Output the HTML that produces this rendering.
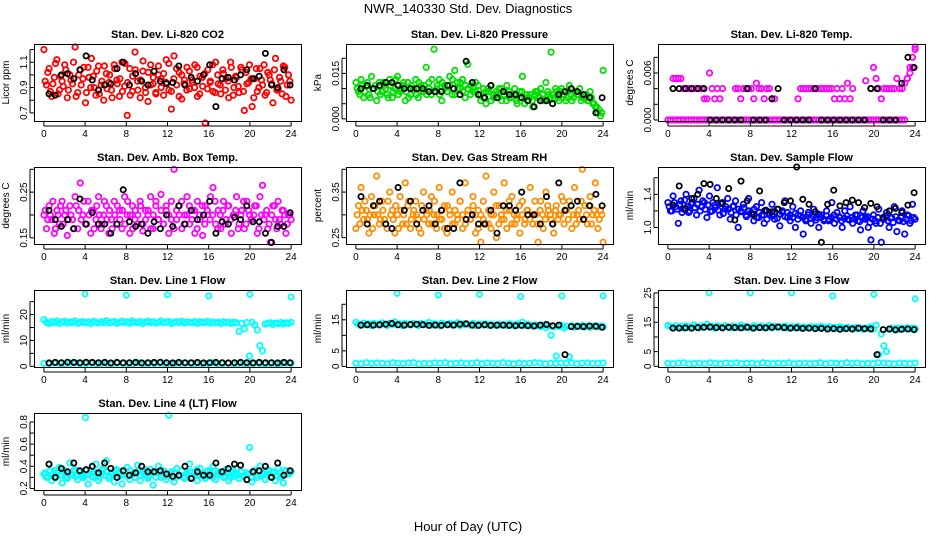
<!DOCTYPE html>
<html><head><meta charset="utf-8"><style>
body{margin:0;background:#fff;}
svg{display:block;font-family:"Liberation Sans",sans-serif;}
</style></head><body>
<svg id="chart" width="936" height="540" viewBox="0 0 936 540" xmlns="http://www.w3.org/2000/svg">
<rect width="936" height="540" fill="#fff"/>
<text x="468" y="13" text-anchor="middle" font-size="13">NWR_140330  Std. Dev. Diagnostics</text>
<text x="468" y="531" text-anchor="middle" font-size="13">Hour of Day (UTC)</text>
</svg>
<script>
const xTicks=[0,4,8,12,16,20,24];
const co2Color=[1.2,0.92,1.05,0.83,0.98,1.12,0.88,0.95,1.08,0.82,1.0,0.93,1.22,0.86,1.04,0.97,0.78,1.06,0.9,0.99,0.84,1.07,0.92,0.8,1.01,0.94,0.88,1.08,0.96,0.83,1.1,0.91,0.68,1.05,0.87,1.18,0.95,0.82,1.03,0.9,0.79,1.08,0.93,0.86,1.0,0.97,0.84,1.12,0.88,0.73,1.15,0.92,1.02,0.81,0.96,1.06,0.89,0.94,1.08,0.83,0.99,0.91,0.62,1.04,0.95,0.87,1.1,0.93,0.85,1.01,0.97,0.82,1.06,0.9,0.98,0.86,1.04,0.72,0.93,1.08,0.75,0.97,0.87,1.05,0.92,0.84,1.02,0.96,0.78,1.13,0.89,0.95,1.07,0.83,1.0,0.8];
const co2ColorB=[0.95,1.02,0.87,0.93,1.09,0.85,0.99,0.91,1.04,0.88,0.96,1.1,0.83,1.0,0.92,1.06,0.86,0.98,1.13,0.9,1.03,0.85,0.95,1.07,0.89,1.0,0.82,1.05,0.93,0.97,0.87,1.09,0.94,0.84,0.99,1.04,0.88,0.96,1.11,0.86,1.02,0.92,0.98,0.85,1.07,0.9,1.01,0.94,1.09,0.87,0.97,1.05,0.83,1.0,0.93,0.88,1.03,0.96,0.9,1.06,0.85,0.98,1.01,0.89,0.94,1.08,0.86,1.0,0.92,1.04,0.88,0.95,1.1,0.84,0.99,0.91,1.06,0.87,1.02,0.94,0.97,0.82,1.05,0.9,0.96,1.08,0.86,1.0,0.93,1.04,0.88,0.98,0.85,1.06,0.92,0.95];
const co2Black=[0.85,0.84,1.0,1.01,0.97,1.04,1.15,0.96,0.88,0.92,0.93,1.05,1.1,0.92,1.01,0.95,0.92,1.03,0.95,0.93,0.94,1.07,0.92,0.98,0.95,1.0,1.08,0.75,0.97,0.98,0.96,1.0,1.04,0.97,0.99,1.17,0.92,0.9,1.04,0.92];
const presColor=[0.012,0.009,0.013,0.007,0.011,0.008,0.014,0.01,0.006,0.012,0.009,0.011,0.008,0.013,0.007,0.01,0.014,0.009,0.011,0.006,0.012,0.008,0.01,0.013,0.007,0.011,0.009,0.017,0.012,0.008,0.023,0.01,0.013,0.006,0.011,0.009,0.014,0.008,0.016,0.012,0.01,0.013,0.007,0.018,0.011,0.009,0.012,0.008,0.006,0.01,0.005,0.009,0.011,0.007,0.008,0.01,0.006,0.009,0.011,0.007,0.008,0.01,0.005,0.009,0.014,0.007,0.006,0.008,0.004,0.009,0.007,0.01,0.006,0.012,0.008,0.022,0.007,0.009,0.006,0.01,0.008,0.007,0.011,0.006,0.009,0.008,0.01,0.007,0.008,0.006,0.009,0.005,0.004,0.002,0.001,0.016];
const presColorB=[0.01,0.008,0.011,0.009,0.012,0.007,0.01,0.011,0.009,0.008,0.012,0.01,0.007,0.011,0.009,0.013,0.008,0.01,0.012,0.009,0.007,0.011,0.01,0.008,0.012,0.009,0.011,0.008,0.01,0.013,0.009,0.011,0.008,0.012,0.01,0.009,0.011,0.013,0.008,0.01,0.012,0.009,0.011,0.01,0.008,0.01,0.009,0.011,0.008,0.007,0.009,0.01,0.006,0.008,0.009,0.007,0.01,0.008,0.006,0.009,0.007,0.008,0.006,0.007,0.009,0.005,0.008,0.007,0.006,0.008,0.009,0.007,0.008,0.006,0.009,0.007,0.008,0.01,0.007,0.009,0.008,0.006,0.009,0.008,0.007,0.009,0.008,0.006,0.007,0.008,0.006,0.007,0.005,0.004,0.003,0.002];
const presBlack=[0.01,0.011,0.01,0.011,0.012,0.012,0.011,0.01,0.01,0.01,0.01,0.009,0.009,0.009,0.011,0.01,0.008,0.019,0.012,0.008,0.007,0.011,0.007,0.009,0.008,0.008,0.007,0.006,0.004,0.006,0.006,0.005,0.008,0.009,0.01,0.009,0.008,0.007,0.002,0.007];
const tempColorA=[0,0,0,0,0,0,0,0,0,0,0,0,0,0,0,0,0,0,0,0,0,0,0,0,0,0,0,0,0,0,0,0,0,0,0,0,0,0,0,0,0,0,0,0,0,0,0,0,0,0,0,0,0,0,0,0,0,0,0,0,0,0,0,0,0,0,0,0,0,0,0,0,0,0,0,0,0,0,0,0,0,0,0,0,0,0,0,0,0,0,0,0,0.0053,0.0067,0.008,0.0093];
const tempColorB=[null,null,0.0053,0.0053,0.0053,0.0053,0.004,0.004,0.004,0.004,0.004,0.004,0.004,0.004,0.0027,0.0027,0.006,0.004,0.0027,0.004,0.0027,0.004,null,null,null,null,0.004,0.004,0.0027,0.004,0.004,0.004,0.004,0.0027,0.0047,0.004,0.004,0.0027,0.004,0.004,0.0027,0.0027,null,null,null,null,null,null,null,null,0.0027,0.004,0.004,0.004,0.004,0.004,0.004,0.004,0.004,0.004,0.004,0.004,0.004,0.004,0.0027,0.004,0.0027,0.004,0.0027,0.0047,0.0027,0.004,null,null,null,null,0.005,null,0.004,0.0067,0.0053,0.004,0.0027,0.004,0.004,0.004,0.004,0.004,0.0053,0.004,0.004,0.0047,0.0053,0.006,0.0067,0.009];
const tempBlack=[0.004,0.004,0.004,0.004,0.004,0.004,0,0,0,0,0,0,0.004,0,0,0,0.0027,0.004,0,0,0,0,0,0.004,0,0,0,0,0,0,0,0,0.004,0.004,0,0,0,0.0047,0.008,0.0067];
const ambColor=[0.2,0.17,0.22,0.19,0.16,0.21,0.18,0.23,0.2,0.155,0.22,0.19,0.24,0.17,0.27,0.2,0.18,0.23,0.16,0.21,0.19,0.24,0.17,0.2,0.22,0.16,0.19,0.23,0.18,0.21,0.17,0.24,0.2,0.16,0.22,0.19,0.18,0.23,0.165,0.21,0.2,0.24,0.17,0.22,0.19,0.245,0.18,0.21,0.16,0.23,0.3,0.19,0.22,0.17,0.2,0.24,0.18,0.21,0.16,0.23,0.19,0.155,0.22,0.2,0.24,0.26,0.18,0.21,0.17,0.23,0.19,0.22,0.16,0.2,0.24,0.18,0.21,0.17,0.23,0.2,0.19,0.22,0.16,0.24,0.265,0.2,0.17,0.14,0.22,0.19,0.23,0.18,0.21,0.16,0.2,0.19];
const ambColorB=[0.21,0.19,0.2,0.23,0.17,0.2,0.22,0.18,0.21,0.19,0.2,0.17,0.22,0.21,0.19,0.23,0.18,0.2,0.21,0.17,0.22,0.2,0.18,0.23,0.19,0.21,0.17,0.2,0.22,0.19,0.21,0.18,0.23,0.2,0.17,0.21,0.2,0.22,0.18,0.19,0.21,0.17,0.2,0.23,0.19,0.21,0.18,0.22,0.2,0.19,0.17,0.21,0.2,0.23,0.18,0.2,0.22,0.19,0.21,0.17,0.2,0.22,0.18,0.21,0.19,0.2,0.23,0.17,0.2,0.21,0.18,0.22,0.19,0.2,0.21,0.17,0.2,0.23,0.18,0.21,0.19,0.2,0.22,0.17,0.2,0.19,0.21,0.18,0.2,0.22,0.17,0.19,0.21,0.2,0.18,0.2];
const ambBlack=[0.21,0.19,0.175,0.19,0.17,0.235,0.18,0.205,0.18,0.18,0.16,0.18,0.255,0.185,0.175,0.18,0.16,0.185,0.17,0.2,0.175,0.22,0.18,0.21,0.19,0.2,0.23,0.16,0.185,0.18,0.195,0.19,0.22,0.185,0.185,0.16,0.14,0.175,0.175,0.205];
const rhColor=[0.27,0.32,0.36,0.29,0.31,0.26,0.34,0.3,0.385,0.28,0.33,0.29,0.27,0.35,0.31,0.26,0.3,0.34,0.28,0.37,0.32,0.27,0.3,0.33,0.29,0.26,0.35,0.31,0.28,0.34,0.3,0.27,0.36,0.29,0.32,0.26,0.31,0.35,0.28,0.3,0.33,0.27,0.37,0.3,0.29,0.34,0.26,0.31,0.24,0.33,0.385,0.28,0.3,0.35,0.25,0.32,0.29,0.37,0.27,0.31,0.34,0.28,0.3,0.26,0.33,0.29,0.31,0.36,0.28,0.3,0.24,0.33,0.27,0.35,0.31,0.29,0.26,0.32,0.3,0.34,0.28,0.31,0.33,0.27,0.36,0.3,0.29,0.4,0.32,0.28,0.34,0.3,0.37,0.27,0.31,0.24];
const rhColorB=[0.3,0.28,0.31,0.33,0.29,0.3,0.27,0.32,0.3,0.29,0.31,0.28,0.33,0.3,0.29,0.32,0.27,0.31,0.3,0.28,0.33,0.29,0.31,0.3,0.27,0.32,0.29,0.3,0.31,0.28,0.33,0.3,0.29,0.31,0.27,0.32,0.3,0.28,0.31,0.29,0.33,0.3,0.28,0.31,0.29,0.32,0.3,0.27,0.3,0.29,0.28,0.31,0.27,0.3,0.32,0.28,0.3,0.29,0.31,0.33,0.28,0.3,0.29,0.32,0.3,0.28,0.31,0.29,0.3,0.33,0.28,0.31,0.3,0.29,0.32,0.3,0.28,0.31,0.29,0.3,0.33,0.31,0.29,0.32,0.3,0.28,0.31,0.33,0.29,0.3,0.32,0.28,0.31,0.3,0.29,0.3];
const rhBlack=[0.34,0.28,0.32,0.33,0.28,0.27,0.36,0.31,0.33,0.28,0.31,0.32,0.28,0.31,0.27,0.27,0.37,0.29,0.3,0.28,0.28,0.31,0.26,0.32,0.32,0.31,0.35,0.3,0.3,0.28,0.34,0.28,0.37,0.31,0.32,0.33,0.29,0.32,0.345,0.32];
const flowColor=[1.3,1.2,1.38,1.25,1.05,1.32,1.22,1.4,1.18,1.28,1.35,1.15,1.45,1.25,1.3,1.12,1.38,1.2,1.27,1.48,1.15,1.3,1.22,1.35,1.1,1.25,1.32,1.0,1.2,1.28,1.15,1.35,1.18,1.08,1.25,1.12,1.3,1.05,1.2,1.15,1.28,1.1,1.22,1.02,1.18,1.32,1.12,1.08,1.25,1.0,1.15,1.2,0.92,1.1,1.18,1.05,1.22,1.12,1.0,1.15,1.08,1.2,1.1,1.3,1.05,1.18,1.12,1.0,1.2,1.1,1.25,1.05,1.15,1.08,0.97,1.2,1.12,1.0,0.85,1.15,1.05,1.22,0.82,1.1,1.18,1.0,1.12,1.25,0.95,1.08,1.2,0.92,1.15,1.05,1.28,1.1];
const flowColorB=[1.25,1.2,1.3,1.22,1.28,1.18,1.33,1.25,1.2,1.3,1.24,1.28,1.2,1.32,1.22,1.27,1.19,1.3,1.24,1.21,1.29,1.17,1.25,1.22,1.18,1.26,1.15,1.22,1.19,1.24,1.13,1.2,1.16,1.22,1.12,1.18,1.15,1.2,1.1,1.17,1.14,1.19,1.11,1.16,1.2,1.13,1.18,1.15,1.12,1.17,1.1,1.14,1.12,1.08,1.15,1.11,1.13,1.09,1.16,1.12,1.1,1.14,1.08,1.12,1.15,1.1,1.13,1.08,1.11,1.14,1.09,1.12,1.1,1.15,1.07,1.12,1.1,1.13,1.06,1.1,1.08,1.12,1.05,1.1,1.14,1.08,1.11,1.06,1.13,1.09,1.12,1.07,1.1,1.14,1.08,1.12];
const flowBlack=[1.27,1.5,1.23,1.35,1.4,1.53,1.52,1.35,1.29,1.47,1.09,1.56,1.32,1.16,1.44,1.21,1.19,1.22,1.3,1.32,1.73,1.34,1.28,1.19,0.82,1.28,1.45,1.26,1.3,1.33,1.3,1.24,1.29,1.25,1.12,1.2,1.23,1.18,1.27,1.42];
const line1High=[18,17,16.5,17.3,16.8,17.5,16.6,17.1,17.4,16.7,17.2,16.9,17.5,16.6,17,17.3,16.8,17.1,16.5,17.4,17,16.7,17.2,16.9,17.6,16.8,17.1,17.3,16.6,17,17.4,16.9,17.2,16.7,17.5,17,16.8,17.3,16.6,17.1,17.4,16.9,17.2,16.7,17,17.5,16.8,17.1,17.3,16.6,17,17.2,16.9,17.4,16.7,17.1,17,16.8,17.3,16.6,17.2,16.9,17,17.4,16.7,17.1,16.8,17,16.5,17.2,16.9,17,16.6,17.1,16.8,13.5,16.5,14.5,16.9,4,17,16,14,8,6,16.3,16.6,16.8,16.2,16.7,16.5,16.9,16.4,16.8,16.6,17];
const line1Low=[1.1,0.9,1.2,1.0,0.8,1.1,1.3,0.9,1.0,1.2,0.8,1.1,1.0,0.9,1.2,1.1,0.8,1.0,1.3,0.9,1.1,1.0,1.2,0.8,0.9,1.1,1.0,1.2,0.9,0.8,1.1,1.0,1.3,0.9,1.0,1.2,0.8,1.1,1.0,0.9,1.2,1.0,0.8,1.1,0.9,1.0,1.2,1.1];
const line1OutHours=[4,8,12,16,20,24];
const line1OutValues=[28,27.5,27.7,27.2,27.8,26.8];
const line1Black=[1.3,1.5,1.4,1.6,1.5,1.4,1.6,1.5,1.4,1.5,1.3,1.5,1.4,1.4,1.5,1.3,1.4,1.5,1.6,1.4,1.3,1.5,1.4,1.4,1.5,1.3,1.4,1.5,1.4,1.3,1.4,1.5,1.4,1.3,1.5,1.4,1.4,1.3,1.5,1.4];
const line2High=[14.2,13.6,13.2,13.9,13.4,13.7,13.1,13.8,13.5,13.3,14,13.6,13.2,13.9,13.5,14.3,13.4,13.7,13.1,13.8,13.6,13.3,13.9,13.5,13.2,13.8,13.6,13.4,14.1,13.3,13.7,13.5,13.2,13.9,13.6,13.4,13.8,13.3,13.5,14,13.2,13.7,13.4,13.6,13.3,13.8,13.1,13.5,13.6,13.3,13.7,13.2,13.5,13.4,13.1,13.6,13.3,13.5,13.2,13.7,13.4,13.1,13.6,13.3,14.2,13.2,13.5,13.3,13.0,13.4,13.1,12.8,13.3,12.5,13.0,10,12.7,3.3,12.9,13.2,12.4,12.9,3.1,13.1,12.6,13.0,12.8,13.2,12.7,13.0,12.6,12.9,13.1,12.7,13.0,12.8];
const line2Low=[1.0,0.8,1.2,0.9,1.1,1.0,0.8,1.2,1.0,0.9,1.1,1.2,0.8,1.0,0.9,1.1,1.0,1.2,0.8,1.0,1.1,0.9,1.0,1.2,0.8,1.1,1.0,0.9,1.2,1.0,0.8,1.1,0.9,1.0,1.2,1.1,0.8,1.0,0.9,1.1,1.0,1.2,0.8,1.0,1.1,0.9,1.0,1.1];
const line2OutHours=[4,8,12,16,20,24];
const line2OutValues=[23.5,23,23.2,22.5,22.7,22.7];
const line2Black=[13.3,13.4,13.3,13.4,13.6,13.8,13.4,13.3,13.5,13.6,13.4,13.2,13.3,13.2,13.4,13.3,13.6,13.7,13.3,13.2,13.4,13.2,13.3,13.3,13.2,13.1,13.2,13.1,13.0,13.3,13.5,13.1,13.3,3.8,12.8,12.9,12.8,13.0,12.9,12.6];
const line3High=[13.9,13.5,13.1,13.8,13.3,13.6,13.0,13.7,13.4,13.2,14.1,13.5,13.1,13.8,13.4,14.3,13.3,13.6,13.0,13.7,13.5,13.2,13.8,13.4,13.1,13.7,13.5,13.3,14.0,13.2,13.6,13.4,13.1,13.8,13.5,13.3,13.7,13.2,13.4,13.9,13.1,13.6,13.3,13.5,13.2,13.7,13.0,13.4,13.5,13.2,13.6,13.1,13.4,13.3,13.0,13.5,13.2,13.4,13.1,13.6,13.3,13.0,13.5,13.2,13.3,13.1,13.4,13.2,12.9,13.3,13.0,12.8,13.2,12.7,13.0,12.6,12.9,13.1,13.4,12.7,14,4,11,7,5,12.6,12.9,12.7,13.0,12.6,12.9,12.8,13.1,12.7,13.0,12.8];
const line3Low=[1.0,0.9,1.1,1.2,0.8,1.0,1.1,0.9,1.2,1.0,0.8,1.1,1.0,1.2,0.9,1.0,1.1,0.8,1.2,1.0,0.9,1.1,1.0,1.2,0.8,1.0,1.1,0.9,1.0,1.2,0.8,1.1,1.0,0.9,1.2,1.0,1.1,0.8,1.0,0.9,1.2,1.1,1.0,0.8,1.1,1.0,0.9,1.1];
const line3OutHours=[4,8,12,16,20,24];
const line3OutValues=[25,25,25,24,24.5,23];
const line3Black=[13.0,13.0,13.1,13.0,13.2,13.3,13.4,13.2,13.1,13.3,13.2,13.1,13.3,13.0,13.2,13.1,13.3,13.4,13.2,13.0,13.1,12.9,13.0,12.8,12.9,12.7,12.8,12.6,12.8,12.7,13.0,12.8,12.7,4.0,12.5,12.7,12.4,12.6,12.7,12.5];
const line4Color=[0.33,0.3,0.42,0.27,0.36,0.31,0.39,0.25,0.34,0.29,0.43,0.32,0.37,0.28,0.35,0.31,0.84,0.24,0.36,0.3,0.42,0.27,0.33,0.38,0.45,0.29,0.34,0.26,0.37,0.31,0.24,0.35,0.39,0.28,0.33,0.3,0.41,0.27,0.36,0.32,0.29,0.37,0.23,0.34,0.4,0.3,0.35,0.28,0.86,0.33,0.26,0.38,0.31,0.36,0.29,0.34,0.42,0.3,0.35,0.27,0.38,0.32,0.29,0.36,0.31,0.4,0.28,0.35,0.33,0.3,0.37,0.27,0.34,0.31,0.38,0.29,0.35,0.32,0.28,0.57,0.26,0.36,0.3,0.4,0.33,0.28,0.37,0.31,0.34,0.27,0.38,0.3,0.25,0.36,0.33,0.35];
const line4ColorB=[0.34,0.31,0.36,0.33,0.3,0.35,0.32,0.37,0.3,0.34,0.33,0.36,0.31,0.35,0.32,0.3,0.36,0.33,0.31,0.35,0.34,0.3,0.37,0.32,0.35,0.31,0.33,0.36,0.3,0.34,0.32,0.35,0.31,0.36,0.33,0.3,0.35,0.32,0.34,0.37,0.31,0.33,0.35,0.3,0.34,0.32,0.36,0.31,0.33,0.35,0.3,0.34,0.32,0.36,0.31,0.33,0.35,0.3,0.34,0.37,0.32,0.33,0.31,0.35,0.34,0.3,0.36,0.32,0.33,0.35,0.31,0.34,0.3,0.36,0.33,0.32,0.35,0.31,0.34,0.33,0.3,0.36,0.32,0.35,0.31,0.34,0.33,0.36,0.3,0.35,0.32,0.34,0.31,0.36,0.33,0.35];
const line4Black=[0.42,0.3,0.38,0.35,0.43,0.36,0.37,0.4,0.34,0.43,0.38,0.3,0.36,0.32,0.34,0.4,0.35,0.35,0.36,0.33,0.31,0.32,0.4,0.29,0.35,0.32,0.32,0.43,0.35,0.38,0.42,0.41,0.28,0.35,0.36,0.4,0.3,0.43,0.32,0.36];
const blackHours=[0.5,1.1,1.7,2.3,2.9,3.5,4.1,4.7,5.3,5.9,6.5,7.1,7.7,8.3,8.9,9.5,10.1,10.7,11.3,11.9,12.5,13.1,13.7,14.3,14.9,15.5,16.1,16.7,17.3,17.9,18.5,19.1,19.7,20.3,20.9,21.5,22.1,22.7,23.3,23.9];

const NS='http://www.w3.org/2000/svg';
const svg=document.getElementById('chart');
function mk(tag,attrs,parent){const e=document.createElementNS(NS,tag);for(const k in attrs)e.setAttribute(k,attrs[k]);(parent||svg).appendChild(e);return e;}

const panels=[
 {key:'co2',title:'Stan. Dev. Li-820 CO2',ylab:'Licor ppm',col:0,row:0,ymin:0.636,ymax:1.244,ticks:[0.7,0.8,0.9,1.0,1.1,1.2],labels:{0.7:'0.7',0.9:'0.9',1.1:'1.1'},color:'#ff0000',series:[co2Color],series2:[co2ColorB],black:co2Black},
 {key:'pressure',title:'Stan. Dev. Li-820 Pressure',ylab:'kPa',col:1,row:0,ymin:-0.0007,ymax:0.0247,ticks:[0,0.005,0.01,0.015,0.02],labels:{0:'0.000',0.015:'0.015'},color:'#00e000',series:[presColor],series2:[presColorB],black:presBlack},
 {key:'temp',title:'Stan. Dev. Li-820 Temp.',ylab:'degrees C',col:2,row:0,ymin:-0.00013,ymax:0.0097,ticks:[0,0.002,0.004,0.006,0.008],labels:{0:'0.000',0.006:'0.006'},color:'#ff00ff',series:[tempColorA,tempColorB],series2:[],black:tempBlack},
 {key:'ambtemp',title:'Stan. Dev. Amb. Box Temp.',ylab:'degrees C',col:0,row:1,ymin:0.1365,ymax:0.305,ticks:[0.15,0.2,0.25,0.3],labels:{0.15:'0.15',0.25:'0.25'},color:'#ff00ff',series:[ambColor],series2:[ambColorB],black:ambBlack},
 {key:'rh',title:'Stan. Dev. Gas Stream RH',ylab:'percent',col:1,row:1,ymin:0.236,ymax:0.405,ticks:[0.25,0.3,0.35,0.4],labels:{0.25:'0.25',0.35:'0.35'},color:'#ff8c00',series:[rhColor],series2:[rhColorB],black:rhBlack},
 {key:'sampleflow',title:'Stan. Dev. Sample Flow',ylab:'ml/min',col:2,row:1,ymin:0.8,ymax:1.73,ticks:[1.0,1.2,1.4,1.6],labels:{1:'1.0',1.4:'1.4'},color:'#0000ff',series:[flowColor],series2:[flowColorB],black:flowBlack},
 {key:'line1',title:'Stan. Dev. Line 1 Flow',ylab:'ml/min',col:0,row:2,ymin:-0.27,ymax:29.5,ticks:[0,5,10,15,20,25],labels:{0:'0',10:'10',20:'20'},color:'#00ffff',series:[line1High,line1Low],series2:[],out:[line1OutHours,line1OutValues],black:line1Black},
 {key:'line2',title:'Stan. Dev. Line 2 Flow',ylab:'ml/min',col:1,row:2,ymin:-0.2,ymax:24.6,ticks:[0,5,10,15,20],labels:{0:'0',5:'5',15:'15'},color:'#00ffff',series:[line2High,line2Low],series2:[],out:[line2OutHours,line2OutValues],black:line2Black},
 {key:'line3',title:'Stan. Dev. Line 3 Flow',ylab:'ml/min',col:2,row:2,ymin:-0.24,ymax:26.0,ticks:[0,5,10,15,20,25],labels:{0:'0',5:'5',15:'15',25:'25'},color:'#00ffff',series:[line3High,line3Low],series2:[],out:[line3OutHours,line3OutValues],black:line3Black},
 {key:'line4',title:'Stan. Dev. Line 4 (LT) Flow',ylab:'ml/min',col:0,row:3,ymin:0.186,ymax:0.881,ticks:[0.2,0.3,0.4,0.5,0.6,0.7,0.8],labels:{0.2:'0.2',0.4:'0.4',0.6:'0.6',0.8:'0.8'},color:'#00ffff',series:[line4Color],series2:[line4ColorB],black:line4Black}
];

panels.forEach(p=>{
  const L=34+312*p.col, R=L+267, T=44+123*p.row, B=T+77;
  const g=mk('g',{});
  
  
  const xs=h=>L+(h+0.96)/25.92*267;
  const ys=v=>B-(v-p.ymin)/(p.ymax-p.ymin)*(B-T);
  const t=mk('text',{x:(L+R)/2,y:T-6,'text-anchor':'middle','font-size':'11','font-weight':'bold'},g);
  t.textContent=p.title;
  
  
  const yl=mk('text',{x:0,y:0,transform:`translate(${L-25},${(T+B)/2}) rotate(-90)`,'text-anchor':'middle','font-size':'10'},g);
  yl.textContent=p.ylab;
  
  
  const pts=mk('g',{fill:'none','stroke-width':'1.8'},g);
  
  
  function drawSeries(arr,off){
    arr.forEach((v,i)=>{
      if(v===null)return;
      const h=off?(i+0.5)*24/arr.length:i*24/(arr.length-1);
      const c=mk('circle',{cx:xs(h).toFixed(1),cy:ys(v).toFixed(1),r:2.7,stroke:p.color},pts);
      
      
    });
  }
  p.series2.forEach(arr=>drawSeries(arr,true));
  p.series.forEach(arr=>drawSeries(arr,false));
  if(p.out){
    p.out[0].forEach((h,i)=>{
      const c=mk('circle',{cx:xs(h).toFixed(1),cy:ys(p.out[1][i]).toFixed(1),r:2.6,stroke:p.color},pts);
      
      
    });
  }
  p.black.forEach((v,i)=>{
    const c=mk('circle',{cx:xs(blackHours[i]).toFixed(1),cy:ys(v).toFixed(1),r:2.6,stroke:'#000','stroke-width':'1.8'},pts);
    
    
  });
  const box=mk('rect',{x:L+0.5,y:T+0.5,width:R-L,height:B-T,fill:'none',stroke:'#000','stroke-width':'1'},g);
  
  
  xTicks.forEach(h=>{
    const x=xs(h);
    mk('line',{x1:x,x2:x,y1:B+0.5,y2:B+5,stroke:'#000'},g);
    const tl=mk('text',{x:x,y:B+16,'text-anchor':'middle','font-size':'10'},g);
    tl.textContent=h;
    
    
  });
  mk('line',{x1:xs(0),x2:xs(24),y1:B+5,y2:B+5,stroke:'#000'},g);
  p.ticks.forEach(v=>{
    const y=ys(v);
    mk('line',{x1:L-4,x2:L+0.5,y1:y,y2:y,stroke:'#000'},g);
    if(p.labels[v]!==undefined){
      const tl=mk('text',{x:0,y:0,transform:`translate(${L-7},${y}) rotate(-90)`,'text-anchor':'middle','font-size':'10'},g);
      tl.textContent=p.labels[v];
      
      
    }
  });
  mk('line',{x1:L-4,x2:L-4,y1:ys(p.ticks[0]),y2:ys(p.ticks[p.ticks.length-1]),stroke:'#000'},g);
});
</script>
</body></html>
